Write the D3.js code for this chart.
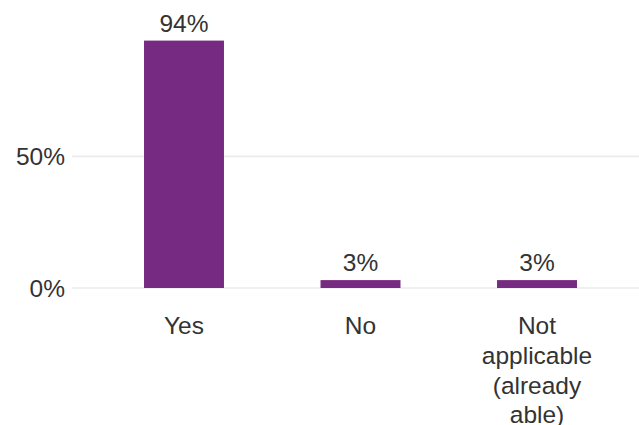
<!DOCTYPE html>
<html>
<head>
<meta charset="utf-8">
<script src="https://cdn.jsdelivr.net/npm/d3@7"></script>
<style>
  html, body { margin: 0; padding: 0; background: #fff; }
  svg { display: block; font-family: "Liberation Sans", Arial, sans-serif; }
</style>
</head>
<body>
<script>
const categories = ["Yes", "No", "Not applicable (already able)"];
const categoryLines = [["Yes"], ["No"], ["Not", "applicable", "(already", "able)"]];
const values = [94, 3, 3];
const valueLabels = ["94%", "3%", "3%"];
const yTicks = [0, 50];
const yTickLabels = ["0%", "50%"];

const W = 639, H = 425;
const svg = d3.select("body").append("svg").attr("width", W).attr("height", H);

const x = d3.scaleBand().domain(categories).range([78, 643])
  .paddingInner(0.547).paddingOuter(0.374);
const y = d3.scaleLinear().domain([0, 50]).range([288, 156.4]);

const textColor = "#333333";
const fontSize = 24.5;

// gridlines
svg.append("g").selectAll("line").data(yTicks).join("line")
  .attr("x1", 72).attr("x2", W)
  .attr("y1", d => y(d)).attr("y2", d => y(d))
  .attr("stroke", "#EBEBEB").attr("stroke-width", 1.6);

// y tick labels
svg.append("g").selectAll("text").data(yTicks).join("text")
  .attr("x", 65).attr("y", d => y(d))
  .attr("dy", "0.36em")
  .attr("text-anchor", "end")
  .attr("font-size", fontSize).attr("fill", textColor)
  .text((d, i) => yTickLabels[i]);

// bars
svg.append("g").selectAll("rect").data(categories).join("rect")
  .attr("x", d => x(d)).attr("width", x.bandwidth())
  .attr("y", (d, i) => y(values[i]))
  .attr("height", (d, i) => y(0) - y(values[i]))
  .attr("fill", "#772A81");

// value labels
svg.append("g").selectAll("text").data(categories).join("text")
  .attr("x", d => x(d) + x.bandwidth() / 2)
  .attr("y", (d, i) => y(values[i]) - 9)
  .attr("text-anchor", "middle")
  .attr("font-size", fontSize).attr("fill", textColor)
  .text((d, i) => valueLabels[i]);

// x category labels
const xl = svg.append("g").selectAll("text").data(categories).join("text")
  .attr("x", d => x(d) + x.bandwidth() / 2)
  .attr("y", 334)
  .attr("text-anchor", "middle")
  .attr("font-size", fontSize).attr("fill", textColor);
xl.each(function(d, i) {
  const t = d3.select(this);
  categoryLines[i].forEach((line, j) => {
    t.append("tspan")
      .attr("x", x(d) + x.bandwidth() / 2)
      .attr("dy", j === 0 ? 0 : 29.8)
      .text(line);
  });
});
</script>
</body>
</html>
